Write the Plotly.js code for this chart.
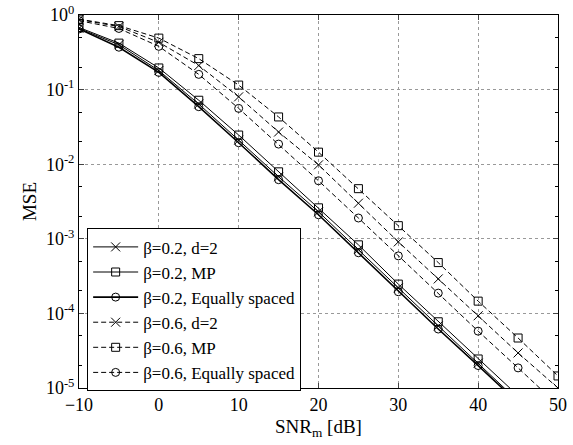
<!DOCTYPE html>
<html>
<head>
<meta charset="utf-8">
<script src="https://cdn.plot.ly/plotly-3.0.1.min.js"></script>
<style>html,body{margin:0;padding:0;background:#fff;}#chart{width:573px;height:445px;}</style>
</head>
<body>
<div id="chart"></div>
<script>
var snr = [-10, -5, 0, 5, 10, 15, 20, 25, 30, 35, 40, 45, 50];

var b02_d2 = [0.66, 0.40, 0.18, 0.064, 0.021, 0.0068, 0.0023, 0.00072, 0.00022, 0.000068, 0.0000215, 0.0000068, 0.0000021];
var b02_mp = [0.68, 0.42, 0.195, 0.072, 0.0246, 0.0079, 0.0026, 0.00083, 0.000247, 0.0000772, 0.0000245, 0.0000078, 0.0000025];
var b02_eq = [0.65, 0.37, 0.17, 0.059, 0.0194, 0.0062, 0.0021, 0.00065, 0.000195, 0.0000617, 0.000020, 0.0000063, 0.000002];

var b06_d2 = [0.87, 0.70, 0.43, 0.21, 0.080, 0.027, 0.0098, 0.0030, 0.00091, 0.00029, 0.000093, 0.0000295, 0.00001];
var b06_mp = [0.88, 0.72, 0.49, 0.26, 0.115, 0.043, 0.0145, 0.0047, 0.0015, 0.00048, 0.000146, 0.0000468, 0.0000145];
var b06_eq = [0.84, 0.66, 0.38, 0.16, 0.056, 0.0186, 0.006, 0.0019, 0.00059, 0.000187, 0.0000578, 0.0000186, 0.0000059];

var names = ["β=0.2, d=2", "β=0.2, MP", "β=0.2, Equally spaced",
             "β=0.6, d=2", "β=0.6, MP", "β=0.6, Equally spaced"];

var yTickVals = [1, 0.1, 0.01, 0.001, 0.0001, 0.00001];
var yTickText = ["10<sup>0</sup>", "10<sup>-1</sup>", "10<sup>-2</sup>", "10<sup>-3</sup>", "10<sup>-4</sup>", "10<sup>-5</sup>"];
var xTickVals = [-10, 0, 10, 20, 30, 40, 50];

var series = [b02_d2, b02_mp, b02_eq, b06_d2, b06_mp, b06_eq];
var symbols = ["x-thin-open", "square-open", "circle-open", "x-thin-open", "square-open", "circle-open"];
var dashes = ["solid", "solid", "solid", "5px,3px", "5px,3px", "5px,3px"];
var widths = [1, 1, 1.6, 1, 1, 1];

var traces = series.map(function (ys, i) {
  return {
    x: snr, y: ys, name: names[i], type: "scatter", mode: "lines+markers",
    line: {color: "black", width: widths[i], dash: dashes[i]},
    marker: {symbol: symbols[i], size: symbols[i] === "x-thin-open" ? 9 : 8,
             color: "black", line: {color: "black", width: 1}}
  };
});

var serif = "'Liberation Serif', 'Times New Roman', Times, serif";

var layout = {
  width: 573, height: 445,
  margin: {l: 79, r: 15, t: 15, b: 57},
  paper_bgcolor: "white", plot_bgcolor: "white",
  font: {family: serif, size: 18, color: "black"},
  showlegend: true,
  legend: {
    x: 0.017, y: 0.428, xanchor: "left", yanchor: "top",
    bgcolor: "white", bordercolor: "black", borderwidth: 1,
    font: {family: serif, size: 17, color: "black"},
    itemwidth: 45,
    tracegroupgap: 0
  },
  xaxis: {
    range: [-10, 50], tickvals: xTickVals, ticks: "inside", ticklen: 5,
    showline: true, linecolor: "black", linewidth: 1, mirror: "ticks",
    showgrid: true, gridcolor: "#999", griddash: "dot", gridwidth: 1,
    zeroline: false,
    tickfont: {family: serif, size: 18},
    title: {text: "SNR<sub>m</sub> [dB]", font: {family: serif, size: 19}, standoff: 6}
  },
  yaxis: {
    type: "log", range: [-5, 0], tickvals: yTickVals, ticktext: yTickText,
    ticks: "inside", ticklen: 5,
    showline: true, linecolor: "black", linewidth: 1, mirror: "ticks",
    showgrid: true, gridcolor: "#999", griddash: "dot", gridwidth: 1,
    zeroline: false,
    minor: {ticks: "inside", ticklen: 3, dtick: "D2", showgrid: false, tickcolor: "black"},
    tickfont: {family: serif, size: 18},
    title: {text: "MSE", font: {family: serif, size: 19}, standoff: 4}
  }
};

Plotly.newPlot("chart", traces, layout, {displayModeBar: false, staticPlot: true});
</script>
</body>
</html>
